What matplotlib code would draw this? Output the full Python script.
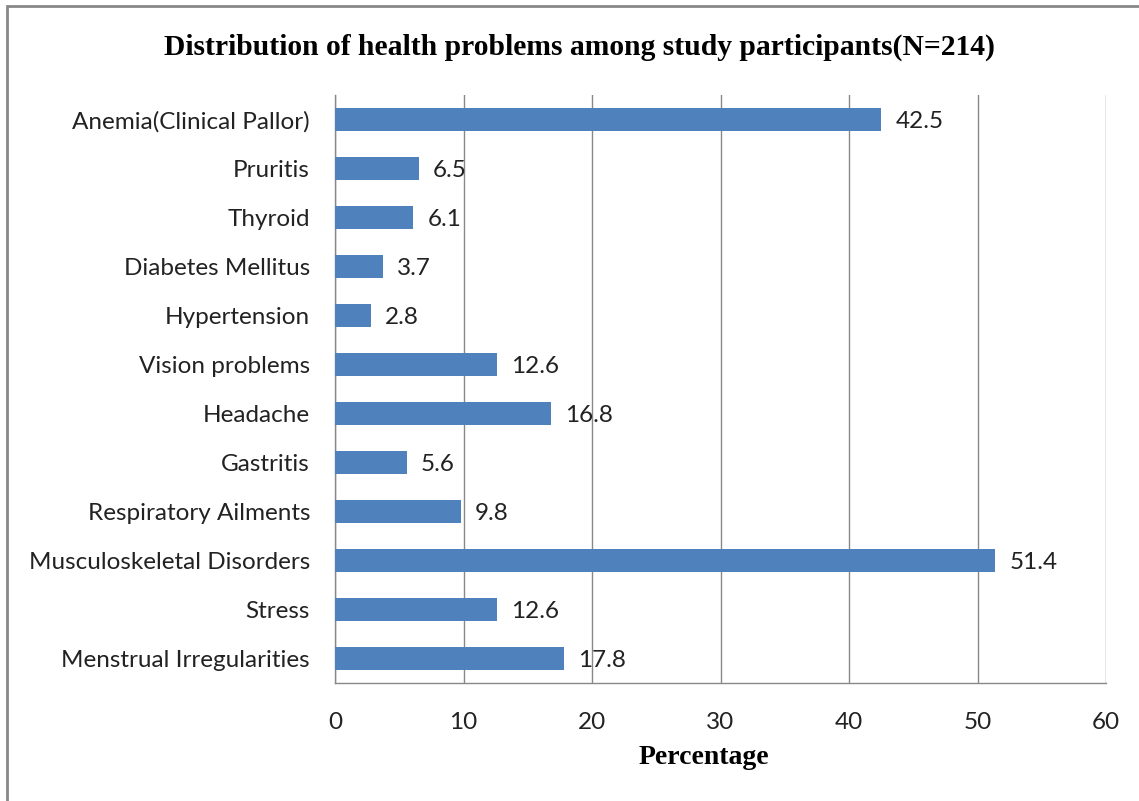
import matplotlib.pyplot as plt
from matplotlib.patches import Rectangle

categories = ["Anemia(Clinical Pallor)", "Pruritis", "Thyroid", "Diabetes Mellitus",
              "Hypertension", "Vision problems", "Headache", "Gastritis",
              "Respiratory Ailments", "Musculoskeletal Disorders", "Stress",
              "Menstrual Irregularities"]
values = [42.5, 6.5, 6.1, 3.7, 2.8, 12.6, 16.8, 5.6, 9.8, 51.4, 12.6, 17.8]
xticks = [0, 10, 20, 30, 40, 50, 60]

label_font = "Lato"
label_size = 17.5

fig = plt.figure(figsize=(11.39, 8.01), dpi=100)
ax = fig.add_axes([335 / 1139, 1 - 683 / 801, 771 / 1139, 588 / 801])

pos = list(range(len(categories)))[::-1]
ax.barh(pos, values, height=0.45, color="#4F81BD", zorder=3)

for p, v in zip(pos, values):
    ax.text(v + 1.1, p - 0.05, f"{v}", va="center", ha="left", fontsize=label_size,
            family=label_font, color="#222222", zorder=4)

ax.set_xlim(0, 60)
ax.set_ylim(-0.5, len(categories) - 0.5)
ax.set_xticks(xticks)
ax.set_xticklabels([str(t) for t in xticks], family=label_font, fontsize=label_size)
ax.set_yticks(pos)
ax.set_yticklabels(categories, family=label_font, fontsize=label_size)
ax.tick_params(axis="both", length=0, colors="#222222")
ax.tick_params(axis="x", pad=21)
ax.tick_params(axis="y", pad=18)
ax.xaxis.grid(True, color="#888888", linewidth=1.0, zorder=0)
for s in ["top", "right"]:
    ax.spines[s].set_visible(False)
for s in ["left", "bottom"]:
    ax.spines[s].set_color("#888888")
    ax.spines[s].set_linewidth(1.0)

fig.text(579 / 1139, 1 - 47 / 801, "Distribution of health problems among study participants(N=214)",
         ha="center", va="center", family="Liberation Serif", fontweight="bold", fontsize=21.3)
fig.text(704 / 1139, 1 - 758 / 801, "Percentage", ha="center", va="center",
         family="Liberation Serif", fontweight="bold", fontsize=20)

fig.patches.append(Rectangle((7 / 1139, -0.1), 1.2, 1 - 6 / 801 + 0.1, transform=fig.transFigure,
                             fill=False, edgecolor="#888888", linewidth=2))

fig.savefig("out.png", dpi=100)
